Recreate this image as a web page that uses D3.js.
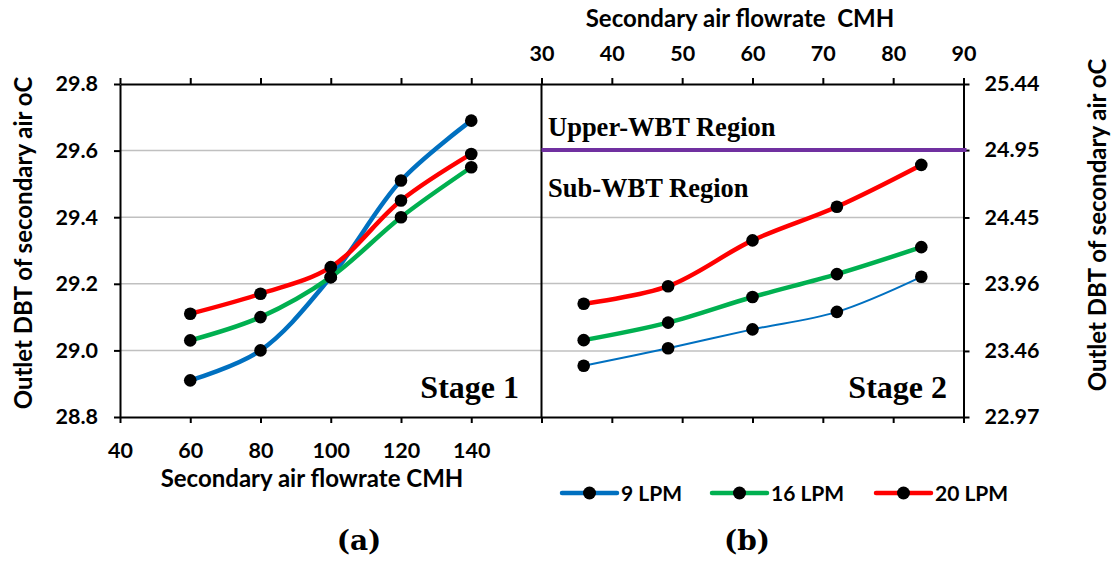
<!DOCTYPE html>
<html>
<head>
<meta charset="utf-8">
<script src="https://cdn.jsdelivr.net/npm/d3@7"></script>
<style>
  html, body { margin: 0; padding: 0; background: #fff; }
  svg { display: block; }
  .sans { font-family: Lato, "Open Sans", sans-serif; font-weight: 700; fill: #000; }
  .serif { font-family: "Liberation Serif", "Times New Roman", serif; font-weight: 700; fill: #000; }
</style>
</head>
<body>
<svg id="chart" width="1111" height="561"></svg>
<script>
// ---------- data ----------
const flowA = [60, 80, 100, 120, 140];
const stage1_9 = [28.91, 29.00, 29.22, 29.51, 29.69];
const stage1_16 = [29.03, 29.10, 29.22, 29.40, 29.55];
const stage1_20 = [29.11, 29.17, 29.25, 29.45, 29.59];

const flowB = [36, 48, 60, 72, 84];
const stage2_9 = [23.35, 23.48, 23.62, 23.75, 24.01];
const stage2_16 = [23.54, 23.67, 23.86, 24.03, 24.23];
const stage2_20 = [23.81, 23.94, 24.28, 24.53, 24.84];

const wbtLimit = 24.95;

const seriesNames = ["9 LPM", "16 LPM", "20 LPM"];
const seriesColors = ["#0070c0", "#00b050", "#ff0000"];

const xTicksA = [40, 60, 80, 100, 120, 140, 160];
const xLabelsA = [40, 60, 80, 100, 120, 140];
const yTicksA = [28.8, 29.0, 29.2, 29.4, 29.6, 29.8];
const xTicksB = [30, 40, 50, 60, 70, 80, 90];
const yTicksB = [22.97, 23.46, 23.96, 24.45, 24.95, 25.44];

// ---------- layout ----------
const svg = d3.select("#chart");
const plotTop = 84, plotBottom = 417;
const xA = d3.scaleLinear().domain([40, 160]).range([120, 541.5]);
const yA = d3.scaleLinear().domain([28.8, 29.8]).range([plotBottom, plotTop]);
const xB = d3.scaleLinear().domain([30, 90]).range([541.5, 963.5]);
const yB = d3.scaleLinear().domain([22.97, 25.44]).range([plotBottom, plotTop]);

const gridColor = "#c0c0c0";
const tickLen = 6;
const tickFont = "21.5px";
const titleFont = "24px";

// gridlines
const g = svg.append("g");
g.selectAll("line.gA").data(yTicksA.slice(1, -1)).join("line")
  .attr("x1", xA(40)).attr("x2", xA(160))
  .attr("y1", d => yA(d)).attr("y2", d => yA(d))
  .attr("stroke", gridColor).attr("stroke-width", 1.5);
g.selectAll("line.gB").data(yTicksB.slice(1, -1)).join("line")
  .attr("x1", xB(30)).attr("x2", xB(90))
  .attr("y1", d => yB(d)).attr("y2", d => yB(d))
  .attr("stroke", gridColor).attr("stroke-width", 1.5);

function styleAxis(sel) {
  sel.select(".domain").attr("stroke", "#000").attr("stroke-width", 2);
  sel.selectAll(".tick line").attr("stroke", "#000").attr("stroke-width", 2);
  sel.selectAll("text").attr("class", "sans").style("font-size", tickFont);
}
// axes (left chart)
const axBottomA = svg.append("g").attr("transform", `translate(0,${plotBottom})`)
  .call(d3.axisBottom(xA).tickValues(xTicksA).tickSize(tickLen).tickSizeOuter(0)
    .tickFormat(d => xLabelsA.includes(d) ? d : ""));
styleAxis(axBottomA);
axBottomA.selectAll("text").attr("dy", null).attr("y", 41);

const axTopA = svg.append("g").attr("transform", `translate(0,${plotTop})`)
  .call(d3.axisTop(xA).tickValues(xTicksA).tickSize(tickLen).tickSizeOuter(0).tickFormat(""));
styleAxis(axTopA);

const axLeftA = svg.append("g").attr("transform", `translate(${xA(40)},0)`)
  .call(d3.axisLeft(yA).tickValues(yTicksA).tickSize(tickLen).tickSizeOuter(0).tickFormat(d3.format(".1f")));
styleAxis(axLeftA);
axLeftA.selectAll("text").attr("x", -22);

// axes (right chart)
const axTopB = svg.append("g").attr("transform", `translate(0,${plotTop})`)
  .call(d3.axisTop(xB).tickValues(xTicksB).tickSize(tickLen).tickSizeOuter(0));
styleAxis(axTopB);
axTopB.selectAll("text").attr("y", -23);

const axBottomB = svg.append("g").attr("transform", `translate(0,${plotBottom})`)
  .call(d3.axisBottom(xB).tickValues(xTicksB).tickSize(tickLen).tickSizeOuter(0).tickFormat(""));
styleAxis(axBottomB);

const axRightB = svg.append("g").attr("transform", `translate(${xB(90)},0)`)
  .call(d3.axisRight(yB).tickValues(yTicksB).tickSize(tickLen).tickSizeOuter(0).tickFormat(d3.format(".2f")));
styleAxis(axRightB);
axRightB.selectAll("text").attr("x", 21);

// divider line between charts
svg.append("line").attr("x1", xB(30)).attr("x2", xB(30)).attr("y1", plotTop).attr("y2", plotBottom)
  .attr("stroke", "#000").attr("stroke-width", 2);

// WBT limit line
svg.append("line").attr("x1", xB(30)).attr("x2", xB(90) + 3)
  .attr("y1", yB(wbtLimit)).attr("y2", yB(wbtLimit))
  .attr("stroke", "#7030a0").attr("stroke-width", 4);

// series
const curve = d3.curveCatmullRom.alpha(0.5);
function drawSeries(xs, ys, xS, yS, color, width) {
  const pts = xs.map((x, i) => [xS(x), yS(ys[i])]);
  svg.append("path").attr("d", d3.line().curve(curve)(pts))
    .attr("fill", "none").attr("stroke", color).attr("stroke-width", width)
    .attr("stroke-linecap", "round");
  svg.append("g").selectAll("circle").data(pts).join("circle")
    .attr("cx", d => d[0]).attr("cy", d => d[1]).attr("r", 6.3).attr("fill", "#000");
}
const seriesA = [stage1_9, stage1_16, stage1_20];
const seriesB = [stage2_9, stage2_16, stage2_20];
const widthsB = [2, 4.5, 4.5];
seriesA.forEach((s, i) => drawSeries(flowA, s, xA, yA, seriesColors[i], 4.5));
seriesB.forEach((s, i) => drawSeries(flowB, s, xB, yB, seriesColors[i], widthsB[i]));

// texts
svg.append("text").attr("class", "serif").attr("x", 519).attr("y", 398)
  .attr("text-anchor", "end").style("font-size", "32px").text("Stage 1");
svg.append("text").attr("class", "serif").attr("x", 947).attr("y", 398)
  .attr("text-anchor", "end").style("font-size", "32px").text("Stage 2");
svg.append("text").attr("class", "serif").attr("x", 548).attr("y", 136)
  .style("font-size", "26.5px").text("Upper-WBT Region");
svg.append("text").attr("class", "serif").attr("x", 548).attr("y", 197)
  .style("font-size", "26.5px").text("Sub-WBT Region");

// axis titles
svg.append("text").attr("class", "sans").attr("x", 312).attr("y", 487)
  .attr("text-anchor", "middle").style("font-size", titleFont).text("Secondary air flowrate CMH");
svg.append("text").attr("class", "sans").attr("x", 740).attr("y", 27)
  .attr("text-anchor", "middle").style("font-size", titleFont)
  .text("Secondary air flowrate\u00a0\u00a0CMH");
svg.append("text").attr("class", "sans")
  .attr("transform", "translate(32,243) rotate(-90)")
  .attr("text-anchor", "middle").style("font-size", titleFont).text("Outlet DBT of secondary air oC");
svg.append("text").attr("class", "sans")
  .attr("transform", "translate(1106,225) rotate(-90)")
  .attr("text-anchor", "middle").style("font-size", titleFont).text("Outlet DBT of secondary air oC");

// legend
const legX = [562, 712, 876];
const legY = 493;
seriesNames.forEach((name, i) => {
  const lg = svg.append("g").attr("transform", `translate(${legX[i]},${legY})`);
  lg.append("line").attr("x1", 0).attr("x2", 55).attr("y1", 0).attr("y2", 0)
    .attr("stroke", seriesColors[i]).attr("stroke-width", 4.5).attr("stroke-linecap", "round");
  lg.append("circle").attr("cx", 27.5).attr("cy", 0).attr("r", 6.5).attr("fill", "#000");
  lg.append("text").attr("class", "sans").attr("x", 59).attr("y", 0).attr("dy", "0.36em")
    .style("font-size", "21px").text(name);
});

// panel labels
svg.append("text").attr("class", "serif").attr("x", 359).attr("y", 550)
  .attr("text-anchor", "middle").style("font-family", "'DejaVu Serif', serif")
  .style("font-size", "28px").text("(a)");
svg.append("text").attr("class", "serif").attr("x", 747).attr("y", 550)
  .attr("text-anchor", "middle").style("font-family", "'DejaVu Serif', serif")
  .style("font-size", "28px").text("(b)");
</script>
</body>
</html>
